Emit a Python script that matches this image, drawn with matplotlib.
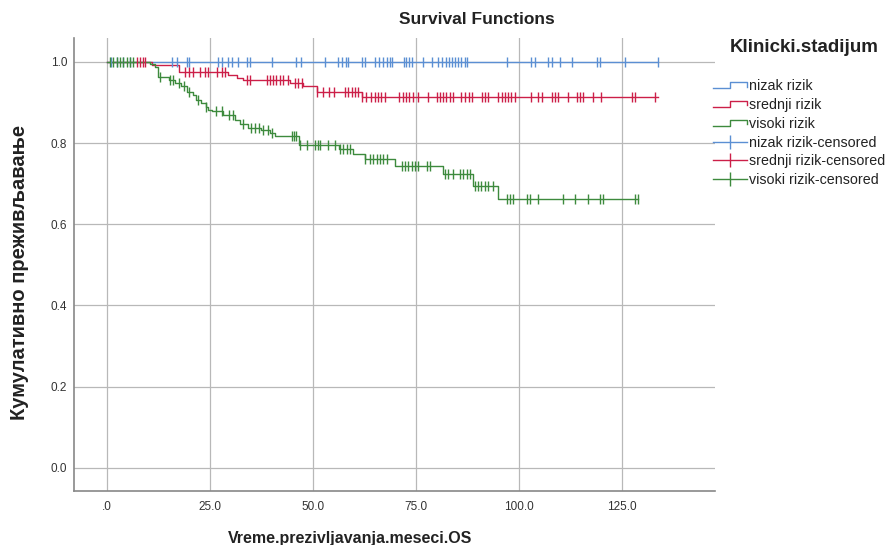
import matplotlib
matplotlib.use("Agg")
import matplotlib.pyplot as plt
from matplotlib.legend_handler import HandlerBase
from matplotlib.lines import Line2D

plt.rcParams['font.family'] = ['Liberation Sans', 'DejaVu Sans']

# survival step data: event times and survival after each event
groups = ["nizak rizik", "srednji rizik", "visoki rizik"]
colors = ["#5b8fd3", "#cc1f48", "#3d8a3d"]

low_times = [0.0, 133.7]
low_surv = [1.0, 1.0]
low_cens = [1.0, 2.5, 4.0, 5.5, 15.8, 17.0, 19.4, 19.9, 27.0, 28.0, 29.4, 30.3, 31.8,
            34.0, 34.7, 40.0, 46.0, 47.0, 53.0, 56.0, 57.0, 58.0, 58.6, 62.0, 62.6,
            65.0, 66.0, 67.0, 68.0, 68.6, 69.2, 72.0, 72.6, 73.3, 74.0, 76.7, 79.0,
            80.3, 81.3, 82.2, 83.0, 83.8, 84.6, 85.3, 86.0, 86.8, 87.5, 97.0, 103.0,
            104.0, 107.0, 108.0, 110.0, 113.0, 119.0, 119.8, 125.7, 133.7]

mid_times = [0.0, 11.0, 17.5, 29.4, 31.5, 33.0, 44.4, 47.6, 51.0, 62.0, 133.7]
mid_surv = [1.0, 0.993, 0.975, 0.968, 0.961, 0.955, 0.948, 0.940, 0.926, 0.914, 0.914]
mid_cens = [7.3, 8.0, 8.7, 9.3, 19.0, 20.0, 21.0, 22.6, 23.8, 24.5, 26.7, 28.0, 28.6,
            34.0, 34.7, 38.8, 39.6, 40.3, 41.0, 42.0, 42.7, 44.0, 45.6, 46.4, 47.3,
            51.0, 52.4, 54.0, 55.0, 57.8, 58.6, 59.4, 60.2, 61.0, 62.0, 63.0, 64.0,
            65.0, 65.8, 66.6, 67.5, 71.0, 71.8, 72.6, 73.4, 74.4, 75.5, 78.0, 80.0,
            80.8, 81.6, 82.4, 83.2, 84.0, 86.0, 87.0, 87.8, 88.6, 91.0, 91.8, 92.5,
            95.0, 95.8, 96.6, 97.4, 98.2, 99.0, 103.0, 104.6, 105.6, 108.0, 108.8,
            109.5, 112.0, 114.0, 114.8, 115.5, 118.0, 120.0, 127.4, 128.2, 133.0]

high_times = [0.0, 10.5, 11.6, 12.5, 15.0, 16.5, 18.0, 19.5, 20.8, 21.6, 22.8, 24.0,
              24.6, 25.5, 28.2, 31.1, 32.3, 34.3, 37.5, 39.5, 40.8, 46.5, 56.3, 59.8,
              62.6, 69.8, 81.6, 88.9, 95.0, 129.0]
high_surv = [1.0, 0.995, 0.988, 0.964, 0.956, 0.948, 0.940, 0.927, 0.919, 0.907, 0.899,
             0.890, 0.882, 0.878, 0.870, 0.858, 0.846, 0.838, 0.832, 0.826, 0.817, 0.795,
             0.786, 0.772, 0.760, 0.743, 0.723, 0.694, 0.662, 0.662]
high_cens = [0.7, 1.5, 2.4, 3.2, 3.9, 4.9, 5.6, 6.3, 12.9, 15.3, 16.0, 17.5, 18.7, 20.0,
             22.0, 24.0, 26.5, 28.0, 29.6, 30.5, 33.0, 35.0, 36.0, 37.0, 38.0, 39.0,
             40.0, 45.0, 45.5, 46.0, 46.8, 48.5, 50.5, 51.3, 51.7, 53.7, 55.3, 56.6,
             57.4, 58.2, 59.0, 62.6, 63.8, 64.6, 65.5, 66.3, 67.1, 67.9, 71.5, 72.3,
             73.1, 74.0, 74.8, 75.6, 77.6, 78.4, 82.0, 82.8, 84.0, 85.7, 86.5, 87.3,
             88.1, 89.3, 90.1, 90.9, 91.7, 92.5, 93.8, 97.0, 97.8, 98.6, 101.9, 102.7,
             104.7, 110.8, 113.6, 116.8, 119.7, 120.5, 128.2, 129.0]

x_ticks = [0, 25, 50, 75, 100, 125]
x_tick_labels = [".0", "25.0", "50.0", "75.0", "100.0", "125.0"]
y_ticks = [0.0, 0.2, 0.4, 0.6, 0.8, 1.0]
y_tick_labels = ["0.0", "0.2", "0.4", "0.6", "0.8", "1.0"]


def surv_at(times, surv, t):
    s = surv[0]
    for ti, si in zip(times, surv):
        if ti <= t:
            s = si
    return s


class StepHandler(HandlerBase):
    def create_artists(self, legend, orig_handle, xdescent, ydescent, width, height, fontsize, trans):
        x0 = -xdescent
        y0 = -ydescent
        xs = [x0, x0 + 0.5 * width, x0 + 0.5 * width, x0 + width, x0 + width]
        ys = [y0 + 0.2 * height, y0 + 0.2 * height, y0 + 0.8 * height, y0 + 0.8 * height, y0 + 0.35 * height]
        line = Line2D(xs, ys, color=orig_handle.get_color(), lw=1.0)
        line.set_transform(trans)
        return [line]


fig = plt.figure(figsize=(8.89, 5.45), dpi=100)
ax = fig.add_axes([74 / 889, 1 - 491 / 545, (715 - 74) / 889, (491 - 38) / 545])

series = [(low_times, low_surv, low_cens), (mid_times, mid_surv, mid_cens), (high_times, high_surv, high_cens)]

step_handles = []
cens_handles = []
for (times, surv, cens), name, col in zip(series, groups, colors):
    ax.step(times, surv, where='post', color=col, lw=1.0, zorder=3)
    cy = [surv_at(times, surv, t) for t in cens]
    ax.plot(cens, cy, ls='none', marker='|', markersize=6.5, markeredgewidth=1.0, color=col, zorder=4)
    step_handles.append(Line2D([], [], color=col, lw=1.0, label=name))
    cens_handles.append(Line2D([0], [0], color=col, lw=1.0, marker='|', markersize=10,
                               markeredgewidth=1.0, label=name + "-censored"))

ax.set_xlim(-8, 147.6)
ax.set_ylim(-0.057, 1.059)
ax.set_xticks(x_ticks)
ax.set_xticklabels(x_tick_labels)
ax.set_yticks(y_ticks)
ax.set_yticklabels(y_tick_labels)
ax.tick_params(length=0, labelsize=8.5, labelcolor='#333333')
ax.tick_params(axis='x', pad=7)
ax.tick_params(axis='y', pad=5)
ax.grid(True, color='#b8b8b8', lw=0.9, zorder=0)
ax.set_axisbelow(True)
for side in ['top', 'right']:
    ax.spines[side].set_visible(False)
for side in ['left', 'bottom']:
    ax.spines[side].set_color('#888888')
    ax.spines[side].set_linewidth(1.2)

fig.text(477 / 889, 1 - 20 / 545, "Survival Functions", ha='center', va='center',
         fontsize=12.5, fontweight='bold', color='#222222')
fig.text(350 / 889, 1 - 538 / 545, "Vreme.prezivljavanja.meseci.OS", ha='center', va='center',
         fontsize=11.5, fontweight='bold', color='#222222')
fig.text(20 / 889, 1 - 272 / 545, "Кумулативно преживљавање", ha='center', va='center',
         rotation=90, fontsize=14.5, fontweight='bold', color='#222222')

# legend title drawn separately, SPSS leaves a big gap below it
fig.text(804 / 889, 1 - 47 / 545, "Klinicki.stadijum", ha='center', va='center',
         fontsize=13.5, fontweight='bold', color='#222222')

handles = step_handles + cens_handles
leg = fig.legend(handles=handles, loc='upper left', bbox_to_anchor=(703 / 889, 1 - 69 / 545),
                 frameon=False, fontsize=10.3,
                 handlelength=2.4, handletextpad=0.1, labelspacing=0.34, borderpad=0.2,
                 handler_map={h: StepHandler() for h in step_handles})
for t in leg.get_texts():
    t.set_color('#222222')

fig.savefig("out.png", dpi=100)
